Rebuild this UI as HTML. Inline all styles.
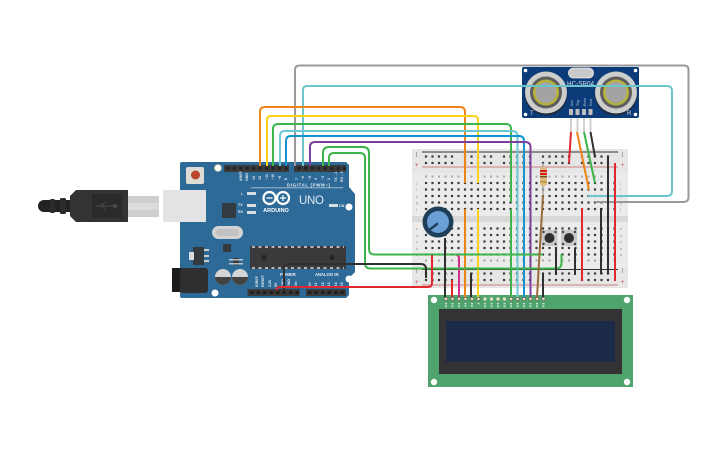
<!DOCTYPE html>
<html><head><meta charset="utf-8">
<style>
html,body{margin:0;padding:0;background:#fff;width:725px;height:453px;overflow:hidden}
svg{display:block}
text{font-family:"Liberation Sans",sans-serif}
.w{fill:none;stroke-width:2;stroke-linecap:butt;stroke-linejoin:round}
.lb{fill:#e8eef4;font-size:3.6px;font-weight:bold}
.bl{fill:#8a8a8a;font-size:3.4px}
</style></head><body>
<svg width="725" height="453" viewBox="0 0 725 453" xmlns="http://www.w3.org/2000/svg">
<defs>
<pattern id="h" x="423.5" y="180" width="6.5" height="6.5" patternUnits="userSpaceOnUse"><rect x="1.4" y="1.9" width="2.2" height="2.2" fill="#3a3a3a"/></pattern>
<pattern id="r" x="423.5" y="153.5" width="39" height="6.5" patternUnits="userSpaceOnUse">
<rect x="1.4" y="1.9" width="2.2" height="2.2" fill="#3a3a3a"/><rect x="7.9" y="1.9" width="2.2" height="2.2" fill="#3a3a3a"/><rect x="14.4" y="1.9" width="2.2" height="2.2" fill="#3a3a3a"/><rect x="20.9" y="1.9" width="2.2" height="2.2" fill="#3a3a3a"/><rect x="27.4" y="1.9" width="2.2" height="2.2" fill="#3a3a3a"/></pattern>
<pattern id="r2" x="423.5" y="270.5" width="39" height="6.5" patternUnits="userSpaceOnUse">
<rect x="1.4" y="1.9" width="2.2" height="2.2" fill="#3a3a3a"/><rect x="7.9" y="1.9" width="2.2" height="2.2" fill="#3a3a3a"/><rect x="14.4" y="1.9" width="2.2" height="2.2" fill="#3a3a3a"/><rect x="20.9" y="1.9" width="2.2" height="2.2" fill="#3a3a3a"/><rect x="27.4" y="1.9" width="2.2" height="2.2" fill="#3a3a3a"/></pattern>
<pattern id="p" x="224.5" y="165" width="6.5" height="7" patternUnits="userSpaceOnUse"><rect width="6.5" height="7" fill="#3a3a3a"/><rect x="1.7" y="1.8" width="3" height="3" fill="#222"/></pattern>
</defs>

<!-- Cable & USB -->
<path d="M44 200h26v12H44a6 6 0 0 1 0-12z" fill="#222"/>
<rect x="50" y="199" width="5" height="14" rx="1.5" fill="#2b2b2b"/>
<rect x="60" y="198" width="6" height="16" rx="1.5" fill="#2b2b2b"/>
<path d="M70 196l6-6h52v32H76l-6-6z" fill="#333"/>
<rect x="92" y="194" width="30" height="24" fill="#2a2a2a"/>
<path d="M96 206h22M105 202l-4 4M105 210l-3-4" stroke="#4a4a4a" stroke-width="1" fill="none"/><circle cx="115" cy="206" r="2" fill="#4a4a4a"/>
<rect x="128" y="196" width="31" height="21" fill="#cfcfcf"/>
<rect x="128" y="203" width="31" height="7" fill="#dcdcdc"/>

<!-- Arduino -->
<path d="M182 162H346l3 3V187l6 7V272l-6 6V295l-3 3H182a2 2 0 0 1-2-2V164a2 2 0 0 1 2-2z" fill="#2d6a98"/>
<rect x="163" y="190" width="43" height="32" fill="#e3e3e3"/>
<rect x="186" y="167" width="18" height="17" rx="2" fill="#dfdcd6"/><circle cx="195.500" cy="175" r="4.500" fill="#b6452c"/>
<circle cx="218" cy="168" r="3.500" fill="#fff" stroke="#d8c98a" stroke-width=".6"/><circle cx="349" cy="207" r="3.500" fill="#fff"/><circle cx="349" cy="279" r="3.500" fill="#fff"/><circle cx="215" cy="293" r="3.500" fill="#fff"/>
<rect x="224" y="165" width="65" height="7" fill="url(#p)"/>
<rect x="294" y="165" width="52" height="7" fill="url(#p)"/>
<rect x="247.500" y="289" width="52" height="7" fill="#3a3a3a"/>
<rect x="306" y="289" width="40" height="7" fill="#3a3a3a"/>
<path d="M250 292.500h49M308 292.500h37" stroke="#1f1f1f" stroke-width="3" stroke-dasharray="3.500 3"/>
<rect x="222" y="203" width="14" height="15" fill="#333a40"/>
<rect x="212" y="226" width="31" height="13" rx="6.500" fill="#d3d3d3"/>
<rect x="216" y="229" width="23" height="7" rx="3.500" fill="#c2c2c2"/>
<rect x="223" y="244" width="8" height="8" fill="#333a40"/>
<rect x="233" y="258" width="6" height="7" fill="#333a40"/>
<rect x="229" y="259" width="14" height="1.500" fill="#ddd" opacity=".8"/><rect x="229" y="263" width="14" height="1.500" fill="#ddd" opacity=".8"/>
<rect x="193" y="247" width="11" height="18" fill="#333a40"/><rect x="189" y="252" width="5" height="8" fill="#ddd"/>
<rect x="204" y="249" width="5" height="2" fill="#ccc"/><rect x="204" y="255" width="5" height="2" fill="#ccc"/><rect x="204" y="260" width="5" height="2" fill="#ccc"/>
<rect x="172" y="268" width="12" height="24" fill="#1c1c1c"/><rect x="180" y="268" width="28" height="25" rx="3" fill="#2f2f2f"/>
<circle cx="223" cy="277" r="8" fill="#d5d5d5"/><path d="M215 277a8 8 0 0 0 16 0z" fill="#444"/>
<circle cx="240" cy="277" r="8" fill="#d5d5d5"/><path d="M232 277a8 8 0 0 0 16 0z" fill="#444"/>
<rect x="250" y="246" width="96" height="23" fill="#3a3a3a"/>
<circle cx="264" cy="257.500" r="2.500" fill="#222"/><circle cx="332" cy="257.500" r="2.500" fill="#222"/>
<path d="M252 247h92M252 268h92" stroke="#ddd" stroke-width="1.500" stroke-dasharray="3 3.500"/>
<g fill="#d8dde2"><rect x="247" y="192" width="9" height="3"/><rect x="247" y="204" width="9" height="3"/><rect x="247" y="211" width="9" height="3"/><rect x="329" y="204" width="9" height="3"/></g>
<circle cx="269.500" cy="198" r="6" fill="none" stroke="#fff" stroke-width="2.200"/><circle cx="283" cy="198" r="6" fill="none" stroke="#fff" stroke-width="2.200"/>
<path d="M266.500 198h6M280 198h6M283 195v6" stroke="#fff" stroke-width="1.200"/>
<text x="276" y="212" text-anchor="middle" font-size="5.500" font-weight="bold" fill="#fff">ARDUINO</text>
<text x="299" y="204" font-size="11.500" fill="#dfe8f0" textLength="25">UNO</text>
<text x="287" y="186.500" font-size="4.400" font-weight="bold" fill="#e8eef4" textLength="43">DIGITAL (PWM~)</text>
<rect x="251" y="187.500" width="92" height=".7" fill="#cfdbe6"/>
<text x="280" y="276" font-size="4.200" font-weight="bold" fill="#e8eef4">POWER</text>
<text x="315" y="276" font-size="4.200" font-weight="bold" fill="#e8eef4">ANALOG IN</text>
<text class="lb" transform="translate(242,181) rotate(-90)">AREF</text>
<text class="lb" transform="translate(248,181) rotate(-90)">GND</text>
<text class="lb" transform="translate(255,180) rotate(-90)">13</text>
<text class="lb" transform="translate(261,180) rotate(-90)">12</text>
<text class="lb" transform="translate(268,180) rotate(-90)">~11</text>
<text class="lb" transform="translate(274,180) rotate(-90)">~10</text>
<text class="lb" transform="translate(281,180) rotate(-90)">~9</text>
<text class="lb" transform="translate(287,180) rotate(-90)">8</text>
<text class="lb" transform="translate(298,180) rotate(-90)">7</text>
<text class="lb" transform="translate(304,180) rotate(-90)">~6</text>
<text class="lb" transform="translate(311,180) rotate(-90)">~5</text>
<text class="lb" transform="translate(317,180) rotate(-90)">4</text>
<text class="lb" transform="translate(324,180) rotate(-90)">~3</text>
<text class="lb" transform="translate(330,180) rotate(-90)">2</text>
<text class="lb" transform="translate(337,182) rotate(-90)">TX→1</text>
<text class="lb" transform="translate(343,182) rotate(-90)">RX←0</text>
<text class="lb" transform="translate(258,287) rotate(-90)">IOREF</text>
<text class="lb" transform="translate(264,287) rotate(-90)">RESET</text>
<text class="lb" transform="translate(271,287) rotate(-90)">3.3V</text>
<text class="lb" transform="translate(277,287) rotate(-90)">5V</text>
<text class="lb" transform="translate(284,287) rotate(-90)">GND</text>
<text class="lb" transform="translate(290,287) rotate(-90)">GND</text>
<text class="lb" transform="translate(297,287) rotate(-90)">Vin</text>
<text class="lb" transform="translate(311,287) rotate(-90)">A0</text>
<text class="lb" transform="translate(317,287) rotate(-90)">A1</text>
<text class="lb" transform="translate(324,287) rotate(-90)">A2</text>
<text class="lb" transform="translate(330,287) rotate(-90)">A3</text>
<text class="lb" transform="translate(337,287) rotate(-90)">A4</text>
<text class="lb" transform="translate(343,287) rotate(-90)">A5</text>
<text class="lb" x="241" y="195">L</text><text class="lb" x="238" y="206">TX</text><text class="lb" x="238" y="213">RX</text><text class="lb" x="339" y="207">ON</text>

<!-- Breadboard -->
<rect x="412" y="149" width="216" height="139" rx="2" fill="#e6e6e6"/>
<rect x="412" y="173" width="216" height="43" fill="#ebebeb"/>
<rect x="412" y="222" width="216" height="46" fill="#ebebeb"/>
<rect x="412" y="216" width="216" height="6" fill="#d8d8d8"/>
<rect x="422" y="151.500" width="196" height="1" fill="#333"/>
<rect x="422" y="166.500" width="196" height="1" fill="#d08080"/>
<rect x="422" y="269" width="196" height="1" fill="#333"/>
<rect x="422" y="284.500" width="196" height="1" fill="#d08080"/>
<rect x="423.500" y="154" width="195" height="11.500" fill="url(#r)"/>
<rect x="423.500" y="271" width="195" height="11.500" fill="url(#r2)"/>
<rect x="423.500" y="180" width="195" height="32.500" fill="url(#h)"/>
<rect x="423.500" y="225" width="195" height="32.500" fill="url(#h)"/>
<g font-size="5" fill="#555"><text x="416" y="156">|</text><text x="622" y="156">|</text><text x="416" y="272">|</text><text x="622" y="272">|</text></g>
<g font-size="6" fill="#c04040"><text x="415" y="167">+</text><text x="621" y="167">+</text><text x="415" y="284">+</text><text x="621" y="284">+</text></g>
<g class="bl" fill="#8a8a8a" font-size="4"><text x="416" y="185">j</text><text x="416" y="191">i</text><text x="416" y="198">h</text><text x="416" y="204">g</text><text x="416" y="211">f</text><text x="416" y="230">e</text><text x="416" y="237">d</text><text x="416" y="243">c</text><text x="416" y="250">b</text><text x="416" y="256">a</text>
<text x="620" y="185">j</text><text x="620" y="191">i</text><text x="620" y="198">h</text><text x="620" y="204">g</text><text x="620" y="211">f</text><text x="620" y="230">e</text><text x="620" y="237">d</text><text x="620" y="243">c</text><text x="620" y="250">b</text><text x="620" y="256">a</text></g>
<path d="M425 176.500H615M425 260.500H615" stroke="#a5a5a5" stroke-width="2" stroke-dasharray="2 4.500"/>

<!-- Resistor -->
<path d="M543 163v32" stroke="#aaa" stroke-width="1.500"/>
<rect x="540" y="167" width="7" height="19" rx="2.500" fill="#dcbc80"/>
<rect x="540" y="170" width="7" height="2" fill="#d21e1e"/><rect x="540" y="173" width="7" height="2" fill="#d21e1e"/><rect x="540" y="176" width="7" height="1.500" fill="#7a4a20"/><rect x="540" y="181" width="7" height="1.500" fill="#b8952e"/>

<!-- Buttons -->
<rect x="541.500" y="230" width="16" height="16" fill="#c9c9c9"/><circle cx="549.500" cy="238" r="5" fill="#2e2e2e"/>
<rect x="561" y="230" width="16" height="16" fill="#c9c9c9"/><circle cx="569" cy="238" r="5" fill="#2e2e2e"/>
<g fill="#444"><circle cx="543.500" cy="232" r="1.200"/><circle cx="555.500" cy="232" r="1.200"/><circle cx="543.500" cy="244" r="1.200"/><circle cx="555.500" cy="244" r="1.200"/><circle cx="563" cy="232" r="1.200"/><circle cx="575" cy="232" r="1.200"/><circle cx="563" cy="244" r="1.200"/><circle cx="575" cy="244" r="1.200"/></g>

<!-- Sensor -->
<rect x="522" y="67" width="117" height="51" rx="2" fill="#0b3b79"/>
<g fill="#fff"><circle cx="525.500" cy="70.500" r="1.800"/><circle cx="635.500" cy="70.500" r="1.800"/><circle cx="525.500" cy="114.500" r="1.800"/><circle cx="635.500" cy="114.500" r="1.800"/></g>
<rect x="568.500" y="68" width="25" height="10" rx="5" fill="#c9c9c9" stroke="#eee" stroke-width=".8"/>
<circle cx="546" cy="94" r="21.500" fill="#1d2a3e"/><circle cx="546" cy="92.500" r="21" fill="#cdcdcd"/><circle cx="546" cy="92.500" r="16" fill="#5d5d5d"/><circle cx="546" cy="92.500" r="13" fill="#b5b33c"/><circle cx="546" cy="92.500" r="10.500" fill="#a3a3a3"/>
<circle cx="616" cy="94" r="21.500" fill="#1d2a3e"/><circle cx="616" cy="92.500" r="21" fill="#cdcdcd"/><circle cx="616" cy="92.500" r="16" fill="#5d5d5d"/><circle cx="616" cy="92.500" r="13" fill="#b5b33c"/><circle cx="616" cy="92.500" r="10.500" fill="#a3a3a3"/>
<text x="567" y="86" font-size="7" fill="#d5deea" textLength="27" lengthAdjust="spacingAndGlyphs">HC-SR04</text>
<g fill="#c8d2e0" font-size="3.600"><text transform="translate(573,106) rotate(-90)">Vcc</text><text transform="translate(579,106) rotate(-90)">Trig</text><text transform="translate(586,106) rotate(-90)">Echo</text><text transform="translate(592,106) rotate(-90)">Gnd</text></g>
<g fill="#bdbdbd"><rect x="569" y="109" width="4" height="6"/><rect x="575.500" y="109" width="4" height="6"/><rect x="582" y="109" width="4" height="6"/><rect x="588.500" y="109" width="4" height="6"/></g>
<text x="530" y="115" font-size="6" fill="#d5deea">T</text><text x="627" y="115" font-size="6" fill="#d5deea">R</text>
<path d="M571 118v14M577.500 118v14M584 118v14M590.500 118v14" stroke="#d2d2d2" stroke-width="2"/>

<!-- LCD -->
<rect x="428" y="295" width="205" height="92" fill="#4ea46c"/>
<g fill="#fff"><circle cx="434" cy="300" r="3.200"/><circle cx="627" cy="300" r="3.200"/><circle cx="434" cy="382" r="3.200"/><circle cx="627" cy="382" r="3.200"/></g>
<rect x="439" y="309" width="183" height="65" fill="#333"/>
<rect x="446" y="321" width="169" height="41" fill="#1b2a49"/>
<g fill="#e8e0b8" stroke="#555" stroke-width=".6">
<circle cx="446" cy="299" r="1.700"/><circle cx="452.500" cy="299" r="1.700"/><circle cx="459" cy="299" r="1.700"/><circle cx="465.500" cy="299" r="1.700"/><circle cx="472" cy="299" r="1.700"/><circle cx="478.500" cy="299" r="1.700"/><circle cx="485" cy="299" r="1.700" stroke="none"/><circle cx="491.500" cy="299" r="1.700" stroke="none"/><circle cx="498" cy="299" r="1.700" stroke="none"/><circle cx="504.500" cy="299" r="1.700" stroke="none"/><circle cx="511" cy="299" r="1.700"/><circle cx="517.500" cy="299" r="1.700"/><circle cx="524" cy="299" r="1.700"/><circle cx="530.500" cy="299" r="1.700"/><circle cx="537" cy="299" r="1.700"/><circle cx="543.500" cy="299" r="1.700"/></g>
<path d="M446 303v5M452.500 303v5M459 303v5M465.500 303v4M472 303v4M478.500 303v2M485 303v5M491.500 303v5M498 303v5M504.500 303v5M511 303v5M517.500 303v5M524 303v5M530.500 303v5M537 303v5M543.500 303v5" stroke="#cfe3d5" stroke-width="2" stroke-dasharray="1 .7"/>

<!-- Wires -->
<path class="w" stroke="#d32c8f" d="M438 254.500H455q4 0 4 4V297"/>
<path class="w" stroke="#9a9a9a" d="M295 166V70q0-4.500 4.500-4.500H684q4.500 0 4.500 4.500V197q0 5-5 5H595"/>
<path class="w" stroke="#6cc4cc" d="M303 166V90q0-4 4-4H667q5 0 5 5V191q0 5-5 5H588"/>
<path class="w" stroke="#ee8416" d="M260 166V112q0-5 5-5H460q5 0 5 5V183"/>
<path class="w" stroke="#ee8416" d="M465 209V297"/>
<path class="w" stroke="#fcd116" d="M267 166V120q0-4 4-4H474q4 0 4 4V183"/>
<path class="w" stroke="#fcd116" d="M478 209V297"/>
<path class="w" stroke="#3db54a" d="M273 166V129q0-5 5-5H506q5 0 5 5V202"/>
<path class="w" stroke="#3db54a" d="M511 209V297"/>
<path class="w" stroke="#6cc9d4" d="M280 166V136q0-5 5-5H512q5.500 0 5.500 5V297"/>
<path class="w" stroke="#1394d0" d="M286 166V141q0-5 5-5H519q5 0 5 5V297"/>
<path class="w" stroke="#7b3fa0" d="M310 166V147q0-5 5-5H525q5.500 0 5.500 5V297"/>
<path class="w" stroke="#3db54a" d="M323 166V153q0-6 6-6H363q6 0 6 6V249q0 5.500 5.500 5.500H543"/>
<path class="w" stroke="#3db54a" d="M329 166V158q0-5 5-5H360q5 0 5 5V263q0 5.500 5.500 5.500H556q5.500 0 5.500-5.500V254"/>
<path class="w" stroke="#303030" d="M284 290V268q0-4 4-4H421q5 0 5 5V278"/>
<path class="w" stroke="#e0282e" d="M276.500 290q0-3 3-3H428q4 0 4-4V280"/>
<path class="w" stroke="#303030" d="M556 248V275M575 248V275M601 208V274M608 156V274"/>
<path class="w" stroke="#e0282e" d="M582 208V281M615 163V281M432 255V281"/>
<path class="w" stroke="#303030" d="M445 238V297M471 273V297M543 273V297"/>
<path class="w" stroke="#e0282e" d="M452 280V297"/>
<path class="w" stroke="#9a6a3a" d="M543 195L537 297"/>
<path class="w" stroke="#e0282e" d="M571 132L569 163"/>
<path class="w" stroke="#ee8416" d="M577 132L589 190"/>
<path class="w" stroke="#3db54a" d="M584 132L595 183"/>
<path class="w" stroke="#303030" d="M590.500 132L595 157"/>

<!-- Pot -->
<circle cx="438" cy="222" r="15.500" fill="#1f3f58"/>
<circle cx="438" cy="222" r="11" fill="#6a9fd6"/>
<path d="M428 231L437 224" stroke="#1f3f58" stroke-width="2.500" stroke-linecap="round"/>
</svg>
</body></html>
